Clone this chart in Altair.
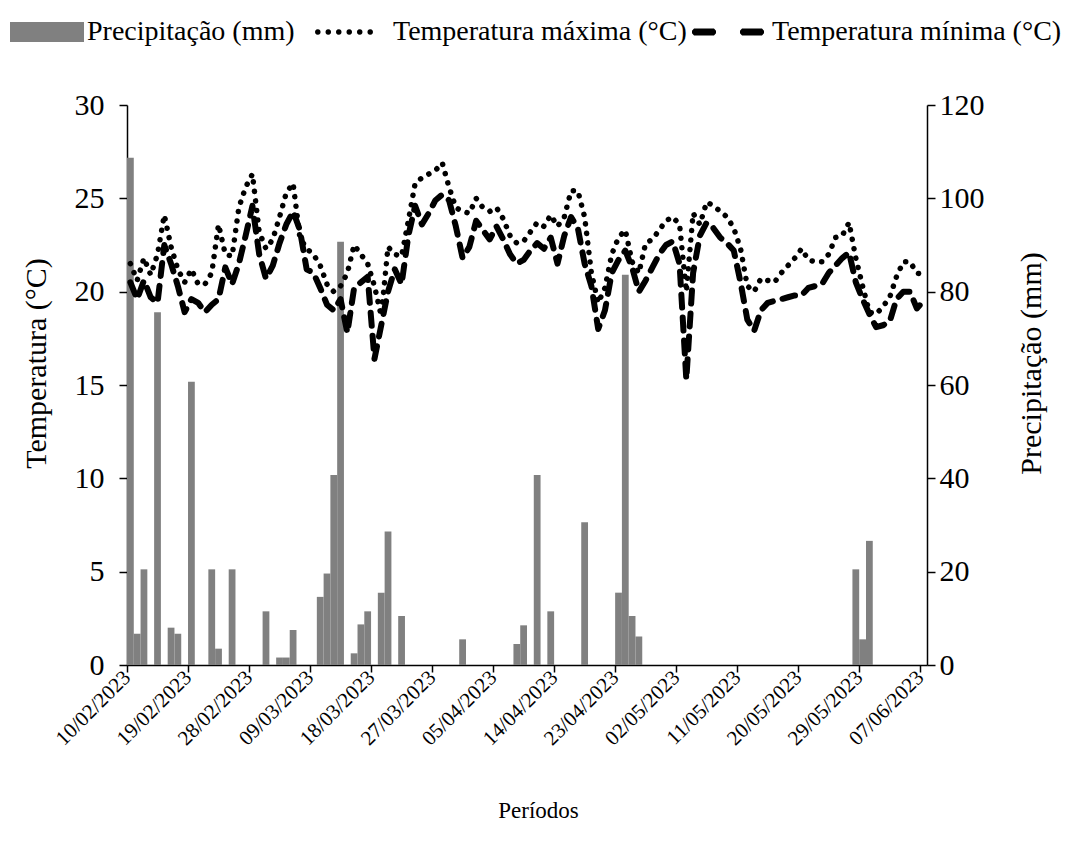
import math
import altair as alt
import pandas as pd

# ---------------- data ----------------
N_DAYS = 118  # 10/02/2023 .. 08/06/2023

SERIES = ["Precipitação (mm)", "Temperatura máxima (°C)", "Temperatura mínima (°C)"]

precip_days = [0, 1, 2, 4, 6, 7, 9, 12, 13, 15, 20, 22, 23, 24, 28, 29, 30, 31,
               33, 34, 35, 37, 38, 40, 49, 57, 58, 60, 62, 67, 72, 73, 74, 75,
               107, 108, 109]
precip_mm = [108.7, 6.7, 20.5, 75.6, 8.0, 6.7, 60.7, 20.5, 3.5, 20.5, 11.5, 1.6, 1.6, 7.5,
             14.6, 19.6, 40.7, 90.7, 2.5, 8.7, 11.5, 15.5, 28.6, 10.5, 5.5, 4.5, 8.5,
             40.7, 11.5, 30.6, 15.5, 83.6, 10.5, 6.1, 20.5, 5.5, 26.6]

tmax = [21.5, 20.6, 21.8, 20.9, 22.0, 24.1, 22.4, 21.2, 20.5, 21.2,
        20.4, 20.4, 21.0, 23.6, 22.0, 21.9, 24.5, 25.6, 26.3, 23.2,
        22.3, 22.8, 24.0, 25.3, 25.8, 22.9, 22.3, 22.0, 21.4, 20.4,
        20.0, 20.3, 21.0, 22.5, 22.0, 21.5, 20.3, 18.7, 22.4, 22.0,
        21.9, 23.8, 25.8, 26.1, 26.3, 26.5, 26.9, 25.6, 24.5, 24.3,
        24.2, 25.0, 24.5, 24.3, 24.5, 23.9, 23.0, 22.6, 22.7, 23.2,
        23.7, 23.5, 24.1, 23.5, 24.0, 25.4, 25.4, 24.0, 21.0, 19.4,
        20.2, 22.0, 22.9, 23.3, 21.6, 21.0, 22.6, 22.8, 23.3, 23.8,
        24.0, 23.6, 20.0, 24.2, 23.6, 24.8, 24.6, 24.3, 24.0, 23.4,
        22.3, 20.3, 20.0, 20.7, 20.6, 20.5, 21.0, 21.4, 21.8, 22.3,
        21.7, 21.6, 21.6, 22.0, 22.9, 23.0, 23.7, 21.8, 20.3, 18.9,
        18.8, 19.2, 19.7, 20.8, 21.6, 21.6, 21.0, 20.9]

tmin = [20.5, 19.6, 20.6, 19.7, 19.4, 22.5, 21.5, 20.3, 18.9, 19.6,
        19.4, 18.9, 19.3, 19.6, 21.3, 20.4, 21.5, 23.0, 24.6, 22.0,
        20.7, 21.4, 22.6, 23.6, 24.3, 23.3, 21.2, 21.0, 20.2, 19.3,
        19.0, 19.6, 17.8, 20.2, 20.5, 20.8, 16.4, 18.2, 20.0, 21.2,
        20.4, 23.0, 24.6, 23.6, 24.2, 24.9, 25.2, 24.9, 23.5, 21.8,
        22.4, 23.8, 23.3, 22.8, 23.5, 22.8, 22.0, 21.5, 21.7, 22.2,
        22.6, 22.3, 22.9, 21.5, 23.0, 24.0, 23.4, 21.5, 20.3, 18.0,
        19.0, 21.0, 21.7, 22.2, 21.3, 20.0, 20.6, 21.3, 22.0, 22.5,
        22.7, 21.5, 15.3, 21.0, 23.0, 23.7, 23.4, 22.9, 22.6, 22.2,
        20.5, 18.5, 17.9, 19.0, 19.4, 19.5, 19.6, 19.7, 19.8, 19.8,
        20.2, 20.3, 20.4, 21.0, 21.4, 21.8, 22.1, 20.5, 19.6, 18.8,
        18.1, 18.2, 18.4, 19.6, 20.0, 20.0, 19.1, 19.5]

tick_days = [0, 9, 18, 27, 36, 45, 54, 63, 72, 81, 90, 99, 108, 117]
temp_ticks = [0, 5, 10, 15, 20, 25, 30]
precip_ticks = [0, 20, 40, 60, 80, 100, 120]

# ---------------- tables ----------------
bars_df = pd.DataFrame({
    "d0": precip_days,
    "d1": [d + 1 for d in precip_days],
    "valor": precip_mm,
    "serie": SERIES[0],
})

days = list(range(N_DAYS))
max_df = pd.DataFrame({"dm": [d + 0.5 for d in days], "temp": tmax, "serie": SERIES[1]})
min_df = pd.DataFrame({"dm": [d + 0.5 for d in days], "temp": tmin, "serie": SERIES[2]})

FONT = "Liberation Serif"
GRAY = "#808080"


# ---------------- legend symbol shapes (unit box -1..1) ----------------
def f(v):
    return f"{v:.4f}"


def dots_path(width_px, n, r_px):
    half = width_px / 2
    step = (width_px - 2 * r_px) / (n - 1)
    parts = []
    for k in range(n):
        cx = -1 + (r_px + k * step) / half
        r = r_px / half
        pts = [(cx + r * math.cos(2 * math.pi * i / 12), r * math.sin(2 * math.pi * i / 12))
               for i in range(12)]
        parts.append("M" + "L".join(f"{f(x)},{f(y)}" for x, y in pts) + "Z")
    return "".join(parts)


def dashes_path(width_px, dash_px, h_px):
    half = width_px / 2
    h = h_px / half
    c = h * 0.6
    spans = [(-1, -1 + dash_px / half), (1 - dash_px / half, 1)]
    parts = []
    for x0, x1 in spans:
        pts = [(x0 + c, -h), (x1 - c, -h), (x1, -h + c), (x1, h - c), (x1 - c, h),
               (x0 + c, h), (x0, h - c), (x0, -h + c)]
        parts.append("M" + "L".join(f"{f(x)},{f(y)}" for x, y in pts) + "Z")
    return "".join(parts)


legend_common = dict(
    title=None,
    orient="none",
    direction="horizontal",
    labelFont=FONT,
    labelFontSize=28,
    labelColor="#000000",
    labelLimit=0,
    padding=0,
    symbolStrokeWidth=0,
)

legend_precip = alt.Legend(
    legendX=-117, legendY=-110,
    symbolType="M-1,-0.27H1V0.27H-1Z",
    symbolSize=74 * 74,
    symbolFillColor=GRAY,
    labelOffset=3,
    **legend_common,
)

legend_max = alt.Legend(
    legendX=188, legendY=-102,
    symbolType=dots_path(58, 6, 2.8),
    symbolSize=58 * 58,
    symbolFillColor="#000000",
    labelOffset=20,
    **legend_common,
)

legend_min = alt.Legend(
    legendX=565, legendY=-109,
    symbolType=dashes_path(72, 24, 3.4),
    symbolSize=72 * 72,
    symbolFillColor="#000000",
    labelOffset=8,
    **legend_common,
)

x_axis = alt.Axis(
    values=tick_days,
    labelExpr="timeFormat(datetime(2023, 1, 10 + datum.value), '%d/%m/%Y')",
    labelAngle=-45,
    labelAlign="right",
    labelBaseline="middle",
    labelFontSize=21,
    labelPadding=2,
    labelOverlap=False,
    labelFlush=False,
    title="Períodos",
    titleFontSize=23,
    titleX=411,
    titleY=145,
    titleBaseline="middle",
    tickSize=7,
    grid=False,
)
x_scale = alt.Scale(domain=[0, N_DAYS], nice=False, zero=False)

temp_axis = alt.Axis(orient="left", values=temp_ticks, title="Temperatura (°C)",
                     titleFontSize=30, labelFontSize=30, tickSize=8, labelPadding=15,
                     titleAngle=270, titleBaseline="middle", titleX=-91, titleY=258,
                     grid=False)
temp_scale = alt.Scale(domain=[0, 30], nice=False)

bars = alt.Chart(bars_df).mark_bar(color=GRAY).encode(
    x=alt.X("d0:Q", scale=x_scale, axis=x_axis),
    x2="d1:Q",
    y=alt.Y("valor:Q", scale=alt.Scale(domain=[0, 120], nice=False),
            axis=alt.Axis(orient="right", values=precip_ticks, title="Precipitação (mm)",
                          titleAngle=270, titleBaseline="middle", titleX=104, titleY=258,
                          titleFontSize=30, labelFontSize=30,
                          tickSize=8, labelPadding=4, grid=False)),
    y2=alt.datum(0),
    fill=alt.Fill("serie:N", scale=alt.Scale(domain=SERIES[:1], range=[GRAY]),
                  legend=legend_precip),
)

max_line = alt.Chart(max_df).mark_line(strokeCap="round", strokeJoin="round").encode(
    x=alt.X("dm:Q", scale=x_scale, axis=x_axis),
    y=alt.Y("temp:Q", scale=temp_scale, axis=temp_axis),
    color=alt.value("#000000"),
    strokeWidth=alt.value(5.5),
    strokeDash=alt.StrokeDash("serie:N",
                              scale=alt.Scale(domain=SERIES[1:2], range=[[0.1, 9.5]]),
                              legend=legend_max),
)

min_line = alt.Chart(min_df).mark_line(strokeCap="round", strokeJoin="round").encode(
    x=alt.X("dm:Q", scale=x_scale, axis=x_axis),
    y=alt.Y("temp:Q", scale=temp_scale, axis=temp_axis),
    color=alt.value("#000000"),
    strokeWidth=alt.value(6),
    strokeDash=alt.StrokeDash("serie:N",
                              scale=alt.Scale(domain=SERIES[2:3], range=[[13, 10]]),
                              legend=legend_min),
)

temps = alt.layer(max_line, min_line).resolve_scale(strokeDash="independent")

chart = (
    alt.layer(bars, temps)
    .resolve_scale(y="independent")
    .properties(
        width=800,
        height=560,
        autosize=alt.AutoSizeParams(type="none"),
        padding={"left": 119, "top": 97, "right": 134, "bottom": 170},
    )
    .configure(font=FONT)
    .configure_view(stroke=None)
    .configure_axis(
        domainColor="#000000", tickColor="#000000", labelColor="#000000",
        titleColor="#000000", titleFontWeight="normal", labelFont=FONT, titleFont=FONT,
        domainWidth=1.5, tickWidth=1.5,
    )
)

chart.save("out.html", embed_options={"renderer": "svg", "actions": False})
